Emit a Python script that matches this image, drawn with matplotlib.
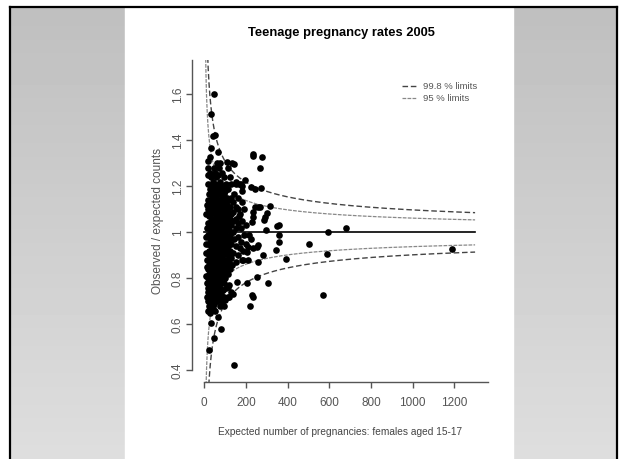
import numpy as np
import matplotlib
matplotlib.use("Agg")
import matplotlib.pyplot as plt
from matplotlib.patches import Rectangle

# dense cluster, one row of expected counts per observed/expected level
row_ratio = [1.30, 1.28, 1.26, 1.25, 1.24, 1.22, 1.21, 1.20, 1.19, 1.18,
             1.165, 1.15, 1.14, 1.13, 1.12, 1.11, 1.10, 1.09, 1.08, 1.07,
             1.06, 1.05, 1.04, 1.03, 1.02, 1.01, 1.00, 0.99, 0.98, 0.97,
             0.96, 0.95, 0.94, 0.93, 0.92, 0.91, 0.90, 0.89, 0.88, 0.87,
             0.86, 0.85, 0.84, 0.83, 0.82, 0.81, 0.80, 0.79, 0.78, 0.77,
             0.76, 0.75, 0.74, 0.73, 0.72, 0.71, 0.70, 0.69, 0.68, 0.67,
             0.66, 0.65]
row_expected = [
    [60, 76], [20, 45, 70, 112], [28, 52, 85], [19, 42, 66], [30, 55, 95, 125],
    [40, 75, 150], [19, 50, 74, 103, 127, 151, 165, 174], [35, 60, 88, 180],
    [28, 45, 80, 115], [40, 62, 100, 180], [24, 48, 70, 95, 142],
    [35, 58, 85, 110, 130, 160], [20, 45, 75, 120], [24, 52, 66, 100, 140, 180],
    [12, 38, 80, 110], [30, 55, 90, 125, 150], [20, 45, 70, 105, 160, 190],
    [35, 60, 85, 115, 140], [10, 28, 50, 95, 130, 170], [24, 66, 76, 110, 165],
    [40, 55, 90, 125, 150], [30, 70, 100, 140, 180], [20, 48, 62, 85, 115, 160],
    [35, 75, 95, 130, 200], [11, 28, 50, 66, 105, 150, 175], [42, 60, 88, 120],
    [30, 55, 75, 100, 140], [20, 45, 66, 85, 125], [9, 35, 58, 95, 110, 160],
    [28, 50, 70, 120, 145], [40, 62, 85, 105, 175], [10, 20, 48, 75, 95, 130],
    [30, 55, 68, 115, 150], [38, 62, 90, 105, 170], [22, 45, 80, 125, 185],
    [10, 33, 58, 70, 100, 140], [25, 50, 66, 90, 115, 160], [40, 78, 130],
    [12, 20, 55, 70, 95, 110, 180], [35, 48, 85, 120, 150], [25, 62, 75, 100, 135],
    [11, 42, 55, 90, 110], [18, 30, 68, 80, 125], [38, 58, 95, 105],
    [22, 48, 70, 85, 115], [10, 32, 62, 90], [20, 45, 75, 100], [28, 55, 68],
    [15, 38, 82, 95], [25, 50, 65, 120], [18, 35, 75, 105], [28, 58, 88],
    [20, 45, 68, 130], [32, 80, 140], [15, 55, 95, 120], [25, 40, 70],
    [18, 60, 85], [30, 48], [22, 95], [40], [32, 52], [26],
]

# scattered authorities outside the main cluster
out_expected = [48, 32, 43, 51, 32, 64, 236, 236, 276, 268, 196, 244, 273, 223,
                260, 316, 268, 244, 236, 236, 228, 300, 292, 285, 348, 361, 297,
                594, 678, 361, 361, 345, 505, 590, 393, 1189, 260, 252, 236, 281,
                260, 212, 188, 204, 217, 193, 201, 209, 226, 572, 220, 233, 308,
                252, 204, 156, 115, 228, 115, 100, 27, 18, 76, 67, 32, 80, 48,
                23, 144, 108, 132, 141, 27, 20]
out_ratio = [1.604, 1.513, 1.42, 1.425, 1.365, 1.35, 1.343, 1.332, 1.329, 1.278,
             1.227, 1.19, 1.194, 1.197, 1.11, 1.116, 1.111, 1.111, 1.09, 1.068,
             1.046, 1.083, 1.068, 1.055, 1.027, 1.03, 1.01, 1.0, 1.017, 0.988,
             0.957, 0.923, 0.95, 0.906, 0.883, 0.926, 0.945, 0.937, 0.93, 0.90,
             0.87, 0.88, 0.88, 0.916, 0.99, 0.99, 0.95, 0.935, 0.97, 0.727,
             0.68, 0.72, 0.78, 0.807, 0.78, 0.785, 0.764, 0.727, 0.72, 0.705,
             0.667, 0.658, 0.68, 0.633, 0.604, 0.58, 0.54, 0.49, 0.423, 1.307,
             1.30, 1.297, 1.33, 1.31]

Z_998 = 3.09
Z_95 = 1.96
E_MAX = 1300

W, H = 620, 459
fig = plt.figure(figsize=(W / 100, H / 100), dpi=100)

# slide background
bg = fig.add_axes([0, 0, 1, 1])
grad = np.linspace(0.75, 0.87, 100).reshape(-1, 1)
bg.imshow(grad, cmap="gray", vmin=0, vmax=1, extent=(11, 125, H, 8), aspect="auto")
bg.imshow(grad, cmap="gray", vmin=0, vmax=1, extent=(513, 616, H, 8), aspect="auto")
bg.add_patch(Rectangle((125, 8), 388, H - 8, color="white"))
bg.plot([10, 10], [7, H], color="black", lw=1.6)
bg.plot([10, 617], [7, 7], color="black", lw=1.6)
bg.plot([617, 617], [7, H], color="black", lw=1.6)
bg.set_xlim(0, W)
bg.set_ylim(H, 0)
bg.axis("off")

# plot region
x0, x1, y0, y1 = 192.3, 488, 60, 382
ax = fig.add_axes([x0 / W, 1 - y1 / H, (x1 - x0) / W, (y1 - y0) / H])
ax.set_facecolor("none")
ax.set_xlim(-57.5, 1362)
ax.set_ylim(0.349, 1.75)

e = np.linspace(1, E_MAX, 2000)
l998, = ax.plot(e, 1 + Z_998 / np.sqrt(e), color="#444444", lw=1, ls=(0, (4, 2)))
ax.plot(e, 1 - Z_998 / np.sqrt(e), color="#444444", lw=1, ls=(0, (4, 2)))
l95, = ax.plot(e, 1 + Z_95 / np.sqrt(e), color="#888888", lw=0.9, ls=(0, (3, 1)))
ax.plot(e, 1 - Z_95 / np.sqrt(e), color="#888888", lw=0.9, ls=(0, (3, 1)))
ax.plot([0, E_MAX], [1, 1], color="black", lw=1.2)

xs, ys = [], []
for r, row in zip(row_ratio, row_expected):
    xs += row
    ys += [r] * len(row)
xs += out_expected
ys += out_ratio
ax.plot(xs, ys, "o", color="black", ms=4.8, mew=0, zorder=3)

for s in ["top", "right"]:
    ax.spines[s].set_visible(False)
ax.spines["left"].set_bounds(0.4, 1.75)
ax.spines["bottom"].set_bounds(0, 1362)
for s in ["left", "bottom"]:
    ax.spines[s].set_color("#555555")
    ax.spines[s].set_linewidth(1)

font = "Liberation Sans"
ax.set_xticks([0, 200, 400, 600, 800, 1000, 1200])
ax.set_xticklabels(["0", "200", "400", "600", "800", "1000", "1200"],
                   family=font, fontsize=8.5, color="#555555")
ax.set_yticks([0.4, 0.6, 0.8, 1.0, 1.2, 1.4, 1.6])
ax.set_yticklabels(["0.4", "0.6", "0.8", "1", "1.2", "1.4", "1.6"],
                   family=font, fontsize=8.5, color="#555555", rotation=90, va="center")
ax.tick_params(axis="x", length=4, width=1, color="#555555", pad=7)
ax.tick_params(axis="y", length=4, width=1, color="#555555", pad=2)

ax.set_xlabel("Expected number of pregnancies: females aged 15-17",
              family=font, fontsize=7.3, color="#444444", labelpad=13)
ax.set_ylabel("Observed / expected counts", family=font,
              fontsize=8.5, color="#555555", labelpad=6)

fig.text(341 / W, 1 - 33 / H, "Teenage pregnancy rates 2005", family=font,
         fontsize=9.3, fontweight="bold", ha="center", va="center")

ax.legend([l998, l95], ["99.8 % limits", "95 % limits"], loc="upper left",
          bbox_to_anchor=(402 / W, 1 - 82 / H), bbox_transform=fig.transFigure,
          frameon=False, prop={"family": font, "size": 6.8}, labelcolor="#555555",
          handlelength=1.6, handletextpad=0.6, labelspacing=0.3,
          borderpad=0, borderaxespad=0)

fig.savefig("out.png", dpi=100)
